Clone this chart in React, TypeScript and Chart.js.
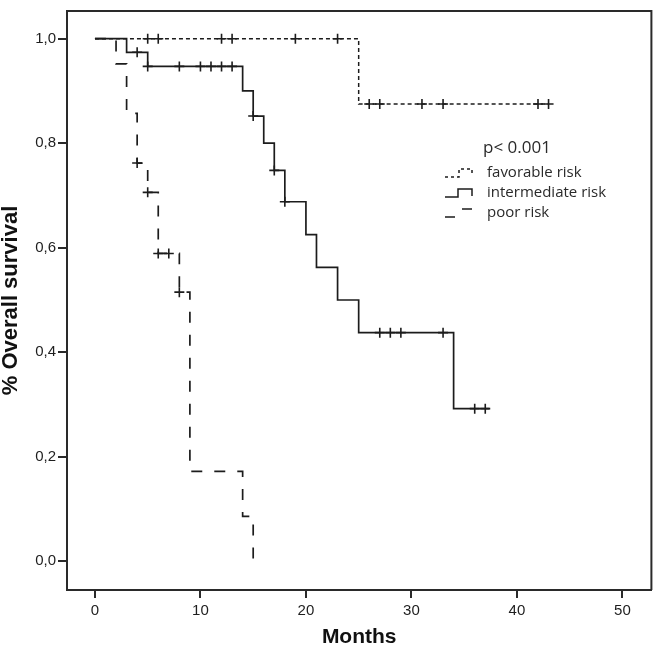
import React, { useEffect, useRef } from "react";
import { Chart, registerables } from "chart.js";

Chart.register(...registerables);

// Kaplan-Meier steps (time in months, survival proportion)
const favTimes = [0, 25, 43];
const favSurv = [1.0, 0.875, 0.875];
const favCensorT = [5, 6, 12, 13, 19, 23, 26, 27, 31, 33, 42, 43];
const favCensorS = [1, 1, 1, 1, 1, 1, 0.875, 0.875, 0.875, 0.875, 0.875, 0.875];

const intTimes = [0, 3, 5, 14, 15, 16, 17, 18, 20, 21, 23, 25, 34, 37.4];
const intSurv = [1.0, 0.974, 0.947, 0.9, 0.852, 0.8, 0.748, 0.688, 0.625, 0.5625, 0.5, 0.4375, 0.292, 0.292];
const intCensorT = [4, 5, 8, 10, 11, 12, 13, 15, 17, 18, 27, 28, 29, 33, 36, 37];
const intCensorS = [0.974, 0.947, 0.947, 0.947, 0.947, 0.947, 0.947, 0.852, 0.748, 0.688, 0.4375, 0.4375, 0.4375, 0.4375, 0.292, 0.292];

const poorTimes = [0, 2, 3, 4, 5, 6, 8, 9, 14, 15];
const poorSurv = [1.0, 0.952, 0.857, 0.762, 0.706, 0.589, 0.515, 0.172, 0.086, 0.0];
const poorCensorT = [4, 5, 6, 7, 8];
const poorCensorS = [0.762, 0.706, 0.589, 0.589, 0.515];

const xTicks = [0, 10, 20, 30, 40, 50];
const yTicks = [0, 0.2, 0.4, 0.6, 0.8, 1.0];

const legendLabels = ["favorable risk", "intermediate risk", "poor risk"];
const pValueText = "p< 0.001";

const INK = "#1c1c1c";
const AXIS = "#2a2a2a";

const pts = (t: number[], s: number[]) => t.map((x, i) => ({ x, y: s[i] }));

const framePlugin = {
  id: "frame",
  afterDraw(chart: any) {
    const { ctx, chartArea } = chart;
    ctx.save();
    ctx.strokeStyle = AXIS;
    ctx.lineWidth = 2;
    ctx.beginPath();
    ctx.moveTo(chartArea.left, chartArea.top);
    ctx.lineTo(chartArea.right, chartArea.top);
    ctx.lineTo(chartArea.right, chartArea.bottom);
    ctx.stroke();
    ctx.restore();
  },
};

const legendPlugin = {
  id: "kmLegend",
  afterDraw(chart: any) {
    const { ctx } = chart;
    ctx.save();
    ctx.fillStyle = "#2a2a2a";
    ctx.textBaseline = "middle";
    ctx.textAlign = "left";
    ctx.font = "17px 'Open Sans'";
    ctx.fillText(pValueText, 483, 148);
    ctx.font = "15px 'Open Sans'";
    const rows = [173, 193, 213];
    legendLabels.forEach((lab, i) => ctx.fillText(lab, 487, rows[i]));
    ctx.strokeStyle = INK;
    ctx.lineWidth = 1.5;
    // favorable symbol (short dashed step)
    ctx.setLineDash([3, 3]);
    ctx.beginPath();
    ctx.moveTo(445, 177);
    ctx.lineTo(459, 177);
    ctx.lineTo(459, 169);
    ctx.lineTo(472, 169);
    ctx.lineTo(472, 174);
    ctx.stroke();
    // intermediate symbol (solid step)
    ctx.setLineDash([]);
    ctx.beginPath();
    ctx.moveTo(445, 197);
    ctx.lineTo(458, 197);
    ctx.lineTo(458, 189);
    ctx.lineTo(472, 189);
    ctx.lineTo(472, 196);
    ctx.stroke();
    // poor symbol (long dashes)
    ctx.beginPath();
    ctx.moveTo(445, 217);
    ctx.lineTo(455, 217);
    ctx.moveTo(462, 209);
    ctx.lineTo(472, 209);
    ctx.stroke();
    ctx.restore();
  },
};

export default function App() {
  const ref = useRef<HTMLCanvasElement | null>(null);
  useEffect(() => {
    if (!ref.current) return;
    const censorDs = (t: number[], s: number[]) => ({
      type: "scatter" as const,
      data: pts(t, s),
      showLine: false,
      pointStyle: "cross",
      pointRadius: 5,
      pointBorderWidth: 1.6,
      borderColor: INK,
      backgroundColor: INK,
      clip: false as any,
    });
    const chart = new Chart(ref.current, {
      type: "line",
      data: {
        datasets: [
          {
            data: pts(favTimes, favSurv),
            stepped: "before",
            borderColor: INK,
            borderWidth: 1.5,
            borderDash: [4, 3],
            pointRadius: 0,
            fill: false,
          },
          {
            data: pts(intTimes, intSurv),
            stepped: "before",
            borderColor: INK,
            borderWidth: 1.7,
            pointRadius: 0,
            fill: false,
          },
          {
            data: pts(poorTimes, poorSurv),
            stepped: "before",
            borderColor: INK,
            borderWidth: 1.7,
            borderDash: [11, 12],
            pointRadius: 0,
            fill: false,
          },
          censorDs(favCensorT, favCensorS),
          censorDs(intCensorT, intCensorS),
          censorDs(poorCensorT, poorCensorS),
        ] as any,
      },
      options: {
        animation: false,
        responsive: false,
        devicePixelRatio: 1,
        layout: { padding: { top: 5, right: 6, left: 0, bottom: 0 } },
        plugins: { legend: { display: false }, tooltip: { enabled: false } },
        scales: {
          x: {
            type: "linear",
            min: -2.65,
            max: 52.75,
            afterBuildTicks: (s: any) => {
              s.ticks = xTicks.map((v) => ({ value: v }));
            },
            afterFit: (s: any) => {
              s.height = 65;
            },
            grid: { display: true, drawOnChartArea: false, drawTicks: true, tickLength: 8, color: AXIS, lineWidth: 2 },
            border: { display: true, color: AXIS, width: 2 },
            ticks: {
              padding: 4,
              color: "#1e1e1e",
              font: { family: "'Liberation Sans', Arial, sans-serif", size: 15 },
              callback: (v: any) => String(v),
            },
            title: {
              display: true,
              text: "Months",
              color: "#111",
              font: { family: "'Liberation Sans', Arial, sans-serif", size: 21, weight: "bold", lineHeight: 1.2 },
              padding: { top: 0, bottom: 5 },
            },
          },
          y: {
            type: "linear",
            min: -0.055,
            max: 1.053,
            afterBuildTicks: (s: any) => {
              s.ticks = yTicks.map((v) => ({ value: v }));
            },
            afterFit: (s: any) => {
              s.width = 67;
            },
            grid: { display: true, drawOnChartArea: false, drawTicks: true, tickLength: 9, color: AXIS, lineWidth: 2 },
            border: { display: true, color: AXIS, width: 2 },
            ticks: {
              padding: 2,
              color: "#1e1e1e",
              font: { family: "'Liberation Sans', Arial, sans-serif", size: 15 },
              callback: (v: any) => Number(v).toFixed(1).replace(".", ","),
            },
            title: {
              display: true,
              text: "% Overall survival",
              color: "#111",
              font: { family: "'Liberation Sans', Arial, sans-serif", size: 22, weight: "bold", lineHeight: 1.0 },
              padding: { top: 0, bottom: 0 },
            },
          },
        },
      },
      plugins: [framePlugin, legendPlugin],
    } as any);
    return () => chart.destroy();
  }, []);
  return (
    <div style={{ position: "fixed", left: 0, top: 0, width: 658, height: 655, background: "#fff" }}>
      <canvas ref={ref} width={658} height={655} style={{ display: "block" }} />
    </div>
  );
}
